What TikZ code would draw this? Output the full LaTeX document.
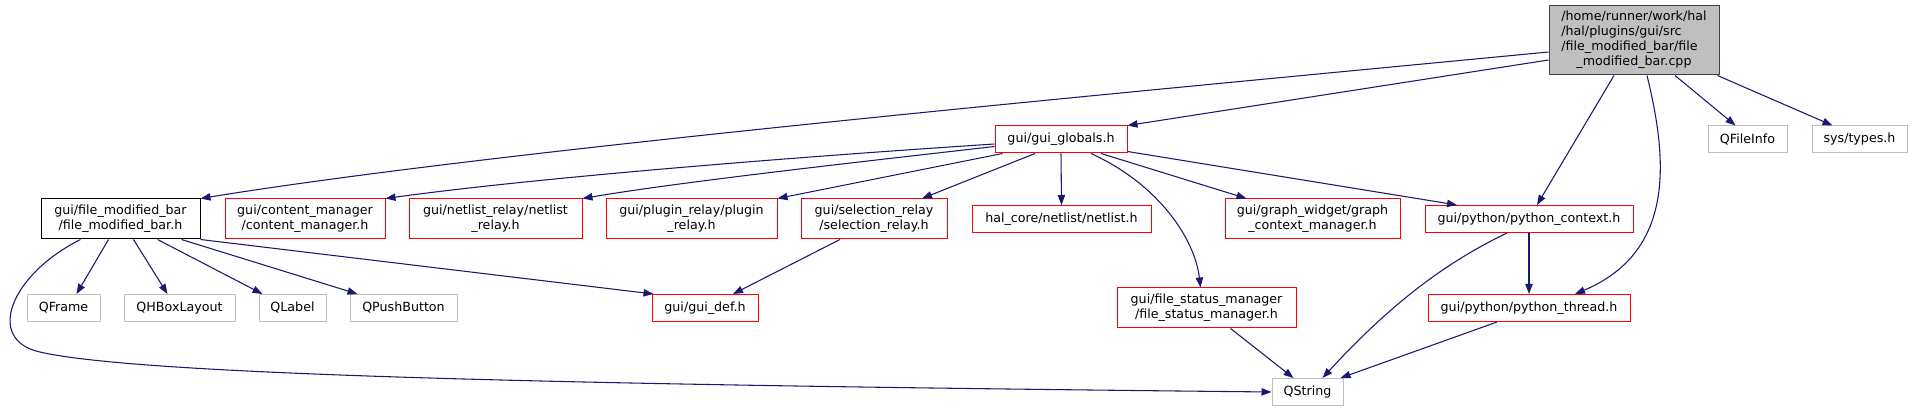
\documentclass[tikz,border=0pt]{standalone}
\usepackage{fontspec}
\setmainfont{DejaVu Sans}
\usetikzlibrary{arrows.meta,calc}
\definecolor{edgec}{HTML}{191970}
\definecolor{redc}{HTML}{FF0000}
\definecolor{grayc}{HTML}{BFBFBF}
\definecolor{rootborder}{HTML}{404040}
\begin{document}
\begin{tikzpicture}[x=0.75pt,y=-0.75pt,
  every node/.style={font=\fontsize{9.5pt}{11.25pt}\selectfont, inner sep=0pt, align=center, line width=0.75pt},
  sz/.style 2 args={minimum width=#1*0.75pt, minimum height=#2*0.75pt},
  redbox/.style={draw=redc, fill=white},
  graybox/.style={draw=grayc, fill=white},
  blackbox/.style={draw=black, fill=white},
  rootbox/.style={draw=rootborder, fill=grayc},
  edge/.style={draw=edgec, line width=0.8pt, -{Triangle[length=7.5pt,width=5.5pt]}}
]
\useasboundingbox (0,0) rectangle (1913,409);

% row 0
\node[rootbox, sz={170}{69}] (root) at (1634,40.5)
  {\begin{tabular}{@{}l@{}}/home/runner/work/hal\\/hal/plugins/gui/src\\/file\_modified\_bar/file\\\multicolumn{1}{@{}c@{}}{\_modified\_bar.cpp}\end{tabular}};

% row 1
\node[redbox, sz={132}{27}] (glob) at (1061,139.5) {gui/gui\_globals.h};
\node[graybox, sz={79}{27}] (qfi) at (1747.5,139.5) {QFileInfo};
\node[graybox, sz={95}{27}] (sys) at (1859.5,139.5) {sys/types.h};

% row 2
\node[blackbox, sz={159}{40}] (fmb) at (120.5,219) {gui/file\_modified\_bar\\/file\_modified\_bar.h};
\node[redbox, sz={160}{40}] (cm) at (305,219) {gui/content\_manager\\/content\_manager.h};
\node[redbox, sz={173}{40}] (nr) at (495.5,219) {gui/netlist\_relay/netlist\\\_relay.h};
\node[redbox, sz={171}{40}] (pr) at (691.5,219) {gui/plugin\_relay/plugin\\\_relay.h};
\node[redbox, sz={146}{40}] (sr) at (874,219) {gui/selection\_relay\\/selection\_relay.h};
\node[redbox, sz={179}{27}] (hal) at (1061.5,219) {hal\_core/netlist/netlist.h};
\node[redbox, sz={175}{40}] (gcm) at (1312.5,219) {gui/graph\_widget/graph\\\_context\_manager.h};
\node[redbox, sz={208}{27}] (pc) at (1529,219) {gui/python/python\_context.h};

% row 3
\node[graybox, sz={73}{27}] (qframe) at (63.5,308) {QFrame};
\node[graybox, sz={111}{27}] (qhbox) at (179.5,308) {QHBoxLayout};
\node[graybox, sz={67}{27}] (qlabel) at (292.5,308) {QLabel};
\node[graybox, sz={107}{27}] (qpush) at (403.5,308) {QPushButton};
\node[redbox, sz={106}{27}] (gdef) at (705,308) {gui/gui\_def.h};
\node[redbox, sz={179}{40}] (fsm) at (1206.5,308) {gui/file\_status\_manager\\/file\_status\_manager.h};
\node[redbox, sz={202}{27}] (pt) at (1529,308) {gui/python/python\_thread.h};

% row 4
\node[graybox, sz={71}{27}] (qstr) at (1307.5,392) {QString};

% edges from root
\draw[edge] ($(root.west)+(0,11.5)$) .. controls (1100,95) and (500,150) .. (fmb.north east);
\draw[edge] ($(root.west)+(0,19.5)$) -- (glob.north east);
\draw[edge] ($(root.south)+(-20,0)$) -- ($(pc.north)+(8,0)$);
\draw[edge] ($(root.south)+(13,0)$) .. controls (1665,150) and (1680,250) .. ($(pt.north)+(46,0)$);
\draw[edge] ($(root.south)+(41,0)$) -- ($(qfi.north)+(-12,0)$);
\draw[edge] ($(root.south east)+(-2,0)$) -- ($(sys.north)+(-27,0)$);

% edges from gui_globals
\draw[edge] ($(glob.west)+(0,4.5)$) .. controls (750,160) and (520,180) .. (cm.north east);
\draw[edge] ($(glob.west)+(0,7)$) .. controls (850,163) and (680,182) .. (nr.north east);
\draw[edge] ($(glob.south west)+(8,0)$) -- (pr.north east);
\draw[edge] ($(glob.south)+(-26,0)$) -- ($(sr.north)+(48,0)$);
\draw[edge] (glob.south) -- (hal.north);
\draw[edge] ($(glob.south)+(30,0)$) .. controls (1160,185) and (1195,240) .. ($(fsm.north)+(-6,0)$);
\draw[edge] ($(glob.south)+(40,0)$) -- ($(gcm.north)+(-66,0)$);
\draw[edge] ($(glob.south east)+(0,-2)$) -- ($(pc.north)+(-72,0)$);

% edges from file_modified_bar.h
\draw[edge] ($(fmb.south)+(-12,0)$) -- ($(qframe.north)+(13,0)$);
\draw[edge] ($(fmb.south)+(13,0)$) -- ($(qhbox.north)+(-12,0)$);
\draw[edge] ($(fmb.south)+(37,0)$) -- ($(qlabel.north)+(-30,0)$);
\draw[edge] ($(fmb.south)+(61,0)$) -- ($(qpush.north)+(-46,0)$);
\draw[edge] (fmb.south east) -- ($(gdef.north west)+(2,0)$);
\draw[edge] ($(fmb.south)+(-40,0)$) .. controls (10,275) and (-15,340) .. (40,352) .. controls (150,378) and (700,386) .. (qstr.west);

% others
\draw[edge] ($(sr.south)+(-34,0)$) -- ($(gdef.north)+(28,0)$);
\draw[edge] ($(pc.south)+(-22,0)$) .. controls (1440,265) and (1385,310) .. ($(qstr.north)+(15,0)$);
\draw[edge] (pc.south) -- (pt.north);
\draw[edge] ($(pt.south)+(-32,0)$) -- ($(qstr.north east)+(-3,0)$);
\draw[edge] ($(fsm.south)+(24,0)$) -- ($(qstr.north)+(-14,0)$);
\end{tikzpicture}
\end{document}
